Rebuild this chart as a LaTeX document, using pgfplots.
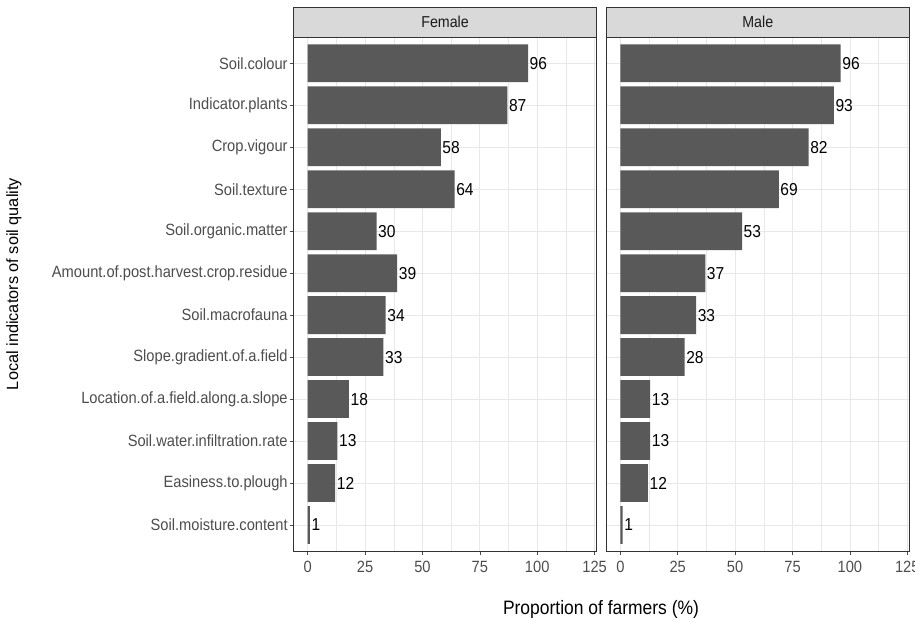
\documentclass[border=0pt]{standalone}
\usepackage{fontspec}
\setmainfont{Liberation Sans}[FakeStretch=0.9]
\newfontfamily\ylabfont{Liberation Sans}
\usepackage{pgfplots}
\pgfplotsset{compat=1.18}
\usepackage{pgfplotstable}

\definecolor{barcol}{HTML}{595959}
\definecolor{gridcol}{HTML}{E8E8E8}
\definecolor{tickcol}{HTML}{4D4D4D}
\definecolor{framecol}{HTML}{333333}
\definecolor{stripcol}{HTML}{D9D9D9}
\definecolor{striptext}{HTML}{1A1A1A}

\pgfplotstableread{
y female male
11 96 96
10 87 93
9 58 82
8 64 69
7 30 53
6 39 37
5 34 33
4 33 28
3 18 13
2 13 13
1 12 12
0 1 1
}\datatable

\pgfplotsset{facet/.style={
  scale only axis, width=303.6pt, height=513.7pt,
  xmin=-6.25, xmax=126, ymin=-0.62, ymax=11.62,
  xbar, bar width=0.9,
  axis line style={draw=framecol, line width=0.9pt},
  xtick={0,25,...,125}, minor xtick={12.5,37.5,...,112.5},
  ytick={0,...,11},
  grid=both,
  major grid style={draw=gridcol, line width=0.8pt},
  minor grid style={draw=gridcol, line width=0.45pt},
  tick align=outside, tick pos=left,
  major tick length=3.5pt, minor tick length=0pt,
  tick style={draw=tickcol, line width=0.6pt},
  ticklabel style={font=\fontsize{16.3}{18}\selectfont, text=tickcol},
  xticklabel style={yshift=-3pt},
  /pgf/number format/assume math mode=true,
  nodes near coords,
  nodes near coords style={anchor=west, font=\fontsize{17.3}{19}\selectfont, text=black, inner sep=1.5pt},
}}

\begin{document}
\begin{tikzpicture}
\useasboundingbox (0,0) rectangle (915pt,622pt);

\begin{axis}[facet, name=female, at={(293.3pt,71pt)}, anchor=south west,
  yticklabels={Soil.moisture.content, Easiness.to.plough, Soil.water.infiltration.rate,
    Location.of.a.field.along.a.slope, Slope.gradient.of.a.field, Soil.macrofauna,
    Amount.of.post.harvest.crop.residue, Soil.organic.matter, Soil.texture,
    Crop.vigour, Indicator.plants, Soil.colour},
  yticklabel style={inner sep=2pt}]
\addplot[fill=barcol, draw=none] table[x=female, y=y] {\datatable};
\end{axis}

\begin{axis}[facet, name=male, at={(606pt,71pt)}, anchor=south west,
  yticklabels={}, ytick style={draw=none}]
\addplot[fill=barcol, draw=none] table[x=male, y=y] {\datatable};
\end{axis}

\draw[fill=stripcol, draw=framecol, line width=0.9pt] (female.north west) rectangle ([yshift=30.3pt]female.north east);
\draw[fill=stripcol, draw=framecol, line width=0.9pt] (male.north west) rectangle ([yshift=30.3pt]male.north east);
\node[font=\fontsize{15.8}{18}\selectfont, text=striptext] at ([yshift=15.15pt]female.north) {Female};
\node[font=\fontsize{15.8}{18}\selectfont, text=striptext] at ([yshift=15.15pt]male.north) {Male};

\node[rotate=90, font=\ylabfont\fontsize{16.3}{18}\selectfont] at (14pt,338pt) {Local indicators of soil quality};
\node[font=\fontsize{19.4}{22}\selectfont] at (601pt,13pt) {Proportion of farmers (\%)};
\end{tikzpicture}
\end{document}
